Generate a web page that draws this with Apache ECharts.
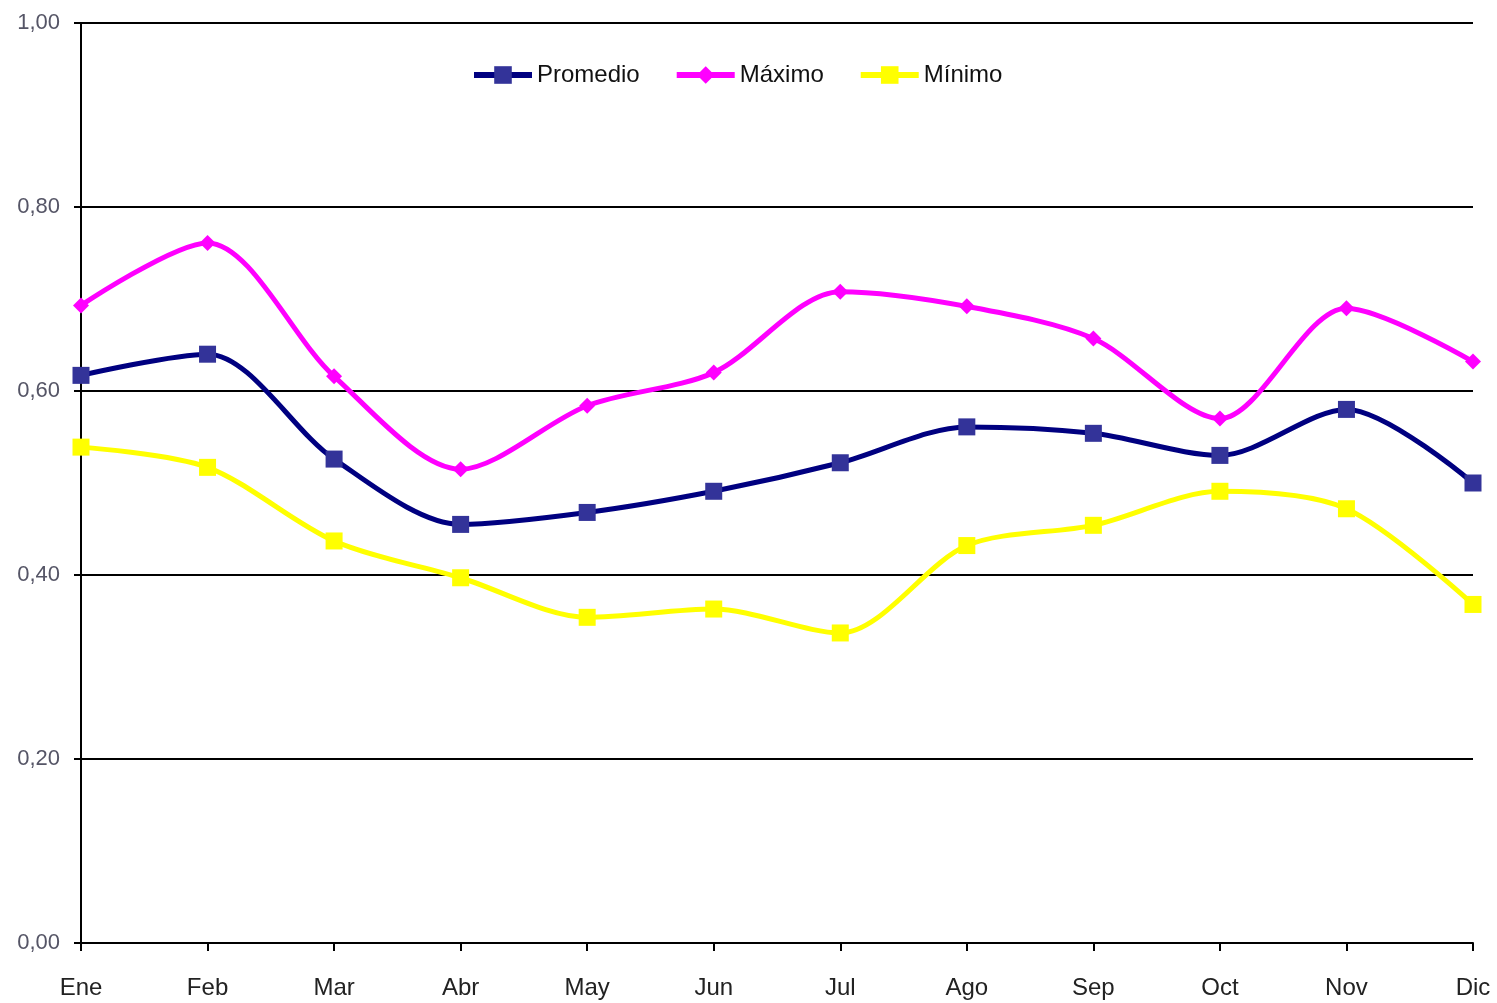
<!DOCTYPE html>
<html>
<head>
<meta charset="utf-8">
<script src="https://cdn.jsdelivr.net/npm/echarts@6/dist/echarts.min.js"></script>
<style>
  html, body { margin: 0; padding: 0; background: #fff; }
  #chart { width: 1497px; height: 1003px; }
</style>
</head>
<body>
<div id="chart"></div>
<script>
// meses
const months = ['Ene', 'Feb', 'Mar', 'Abr', 'May', 'Jun', 'Jul', 'Ago', 'Sep', 'Oct', 'Nov', 'Dic']
// series
const promedio = [0.617, 0.640, 0.526, 0.455, 0.468, 0.491, 0.522, 0.561, 0.554, 0.530, 0.580, 0.500]
const maximo = [0.693, 0.761, 0.616, 0.515, 0.584, 0.620, 0.708, 0.692, 0.657, 0.570, 0.690, 0.632]
const minimo = [0.539, 0.517, 0.437, 0.397, 0.354, 0.363, 0.337, 0.432, 0.454, 0.491, 0.472, 0.368]

const font = '"Liberation Sans Narrow", "Liberation Sans", Arial, sans-serif'

let chart = echarts.init(document.getElementById('chart'))
chart.setOption({
  animation: false,
  grid: { left: 81, right: 24, top: 23, bottom: 60 },
  legend: {
    top: 58,
    left: 466,
    itemWidth: 58,
    itemHeight: 22,
    itemGap: 34,
    lineStyle: { width: 6 },
    textStyle: { fontFamily: font, fontSize: 24, color: '#111' },
    data: ['Promedio', 'Máximo', 'Mínimo']
  },
  xAxis: {
    type: 'category',
    data: months,
    boundaryGap: false,
    axisLine: { lineStyle: { color: '#000', width: 2 } },
    axisTick: { show: true, length: 8, lineStyle: { color: '#000', width: 2 } },
    axisLabel: { fontFamily: font, fontSize: 24, color: '#222', margin: 33 }
  },
  yAxis: {
    type: 'value',
    min: 0,
    max: 1,
    interval: 0.2,
    axisLine: { show: true, lineStyle: { color: '#000', width: 2 } },
    axisTick: { show: true, length: 7, lineStyle: { color: '#000', width: 2 } },
    axisLabel: {
      fontFamily: font, fontSize: 22, color: '#556', margin: 21,
      formatter: v => v.toFixed(2).replace('.', ',')
    },
    splitLine: { lineStyle: { color: '#000', width: 2 } }
  },
  series: [
    {
      name: 'Promedio', type: 'line', data: promedio, smooth: 0.3,
      symbol: 'rect', symbolSize: 17,
      lineStyle: { color: '#000080', width: 5 },
      itemStyle: { color: '#333399' }
    },
    {
      name: 'Máximo', type: 'line', data: maximo, smooth: 0.3,
      symbol: 'diamond', symbolSize: 16,
      lineStyle: { color: '#ff00ff', width: 5 },
      itemStyle: { color: '#ff00ff' }
    },
    {
      name: 'Mínimo', type: 'line', data: minimo, smooth: 0.3,
      symbol: 'rect', symbolSize: 17,
      lineStyle: { color: '#ffff00', width: 5 },
      itemStyle: { color: '#ffff00' }
    }
  ]
})
</script>
</body>
</html>
